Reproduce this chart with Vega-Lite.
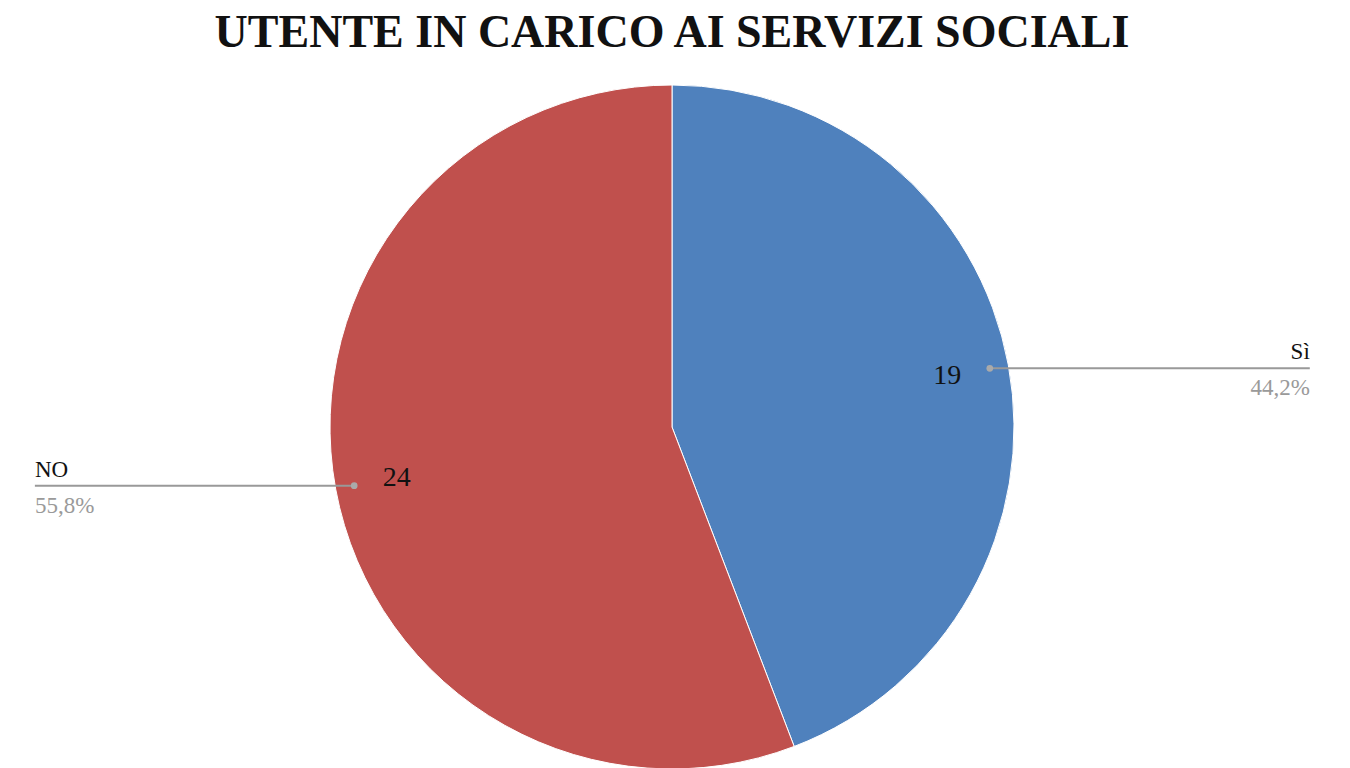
{
  "$schema": "https://vega.github.io/schema/vega-lite/v6.json",
  "width": 1344,
  "height": 684,
  "autosize": {"type": "pad"},
  "padding": {"left": 0, "top": 10, "right": 6, "bottom": 0},
  "background": "white",
  "title": {
    "text": "UTENTE IN CARICO AI SERVIZI SOCIALI",
    "font": "Liberation Serif",
    "fontSize": 46,
    "fontWeight": "bold",
    "color": "#111111",
    "anchor": "middle",
    "baseline": "top",
    "offset": 26
  },
  "data": {
    "values": [
      {"cat": "Sì", "n": 19, "pct": "44,2%", "ord": 1},
      {"cat": "NO", "n": 24, "pct": "55,8%", "ord": 2}
    ]
  },
  "transform": [
    {"joinaggregate": [{"op": "sum", "field": "n", "as": "total"}]},
    {"window": [{"op": "sum", "field": "n", "as": "cum"}], "sort": [{"field": "ord"}], "frame": [null, 0]},
    {"calculate": "(datum.cum - datum.n / 2) / datum.total * 2 * PI", "as": "mid"},
    {"calculate": "0.945 * sin(datum.mid)", "as": "px"},
    {"calculate": "0.945 * cos(datum.mid)", "as": "py"},
    {"calculate": "datum.px > 0 ? 1.865 : -1.863", "as": "ex"}
  ],
  "config": {"view": {"stroke": null}},
  "layer": [
    {
      "mark": {"type": "arc", "outerRadius": 342, "stroke": "white", "strokeWidth": 1},
      "encoding": {
        "theta": {"field": "n", "type": "quantitative", "stack": true},
        "order": {"field": "ord", "type": "quantitative"},
        "color": {
          "field": "cat",
          "type": "nominal",
          "scale": {"domain": ["Sì", "NO"], "range": ["#4F81BD", "#C0504D"]},
          "legend": null
        }
      }
    },
    {
      "mark": {"type": "text", "radius": 280, "font": "Liberation Serif", "fontSize": 28, "color": "#111111"},
      "encoding": {
        "theta": {"field": "n", "type": "quantitative", "stack": true},
        "order": {"field": "ord", "type": "quantitative"},
        "text": {"field": "n", "type": "quantitative"}
      }
    },
    {
      "mark": {"type": "rule", "color": "#999999", "strokeWidth": 2},
      "encoding": {
        "x": {"field": "px", "type": "quantitative", "scale": {"domain": [-1.965, 1.965], "nice": false, "zero": false}, "axis": null},
        "x2": {"field": "ex"},
        "y": {"field": "py", "type": "quantitative", "scale": {"domain": [-1, 1], "nice": false, "zero": false}, "axis": null}
      }
    },
    {
      "mark": {"type": "point", "filled": true, "color": "#aaaaaa", "opacity": 1, "size": 45},
      "encoding": {
        "x": {"field": "px", "type": "quantitative"},
        "y": {"field": "py", "type": "quantitative"}
      }
    },
    {
      "transform": [{"filter": "datum.px > 0"}],
      "mark": {"type": "text", "align": "right", "baseline": "alphabetic", "dy": -9, "font": "Liberation Serif", "fontSize": 23, "color": "#111111"},
      "encoding": {
        "x": {"field": "ex", "type": "quantitative"},
        "y": {"field": "py", "type": "quantitative"},
        "text": {"field": "cat"}
      }
    },
    {
      "transform": [{"filter": "datum.px > 0"}],
      "mark": {"type": "text", "align": "right", "baseline": "alphabetic", "dy": 27, "font": "Liberation Serif", "fontSize": 23, "color": "#9a9a9a"},
      "encoding": {
        "x": {"field": "ex", "type": "quantitative"},
        "y": {"field": "py", "type": "quantitative"},
        "text": {"field": "pct"}
      }
    },
    {
      "transform": [{"filter": "datum.px <= 0"}],
      "mark": {"type": "text", "align": "left", "baseline": "alphabetic", "dy": -9, "font": "Liberation Serif", "fontSize": 23, "color": "#111111"},
      "encoding": {
        "x": {"field": "ex", "type": "quantitative"},
        "y": {"field": "py", "type": "quantitative"},
        "text": {"field": "cat"}
      }
    },
    {
      "transform": [{"filter": "datum.px <= 0"}],
      "mark": {"type": "text", "align": "left", "baseline": "alphabetic", "dy": 27, "font": "Liberation Serif", "fontSize": 23, "color": "#9a9a9a"},
      "encoding": {
        "x": {"field": "ex", "type": "quantitative"},
        "y": {"field": "py", "type": "quantitative"},
        "text": {"field": "pct"}
      }
    }
  ]
}
